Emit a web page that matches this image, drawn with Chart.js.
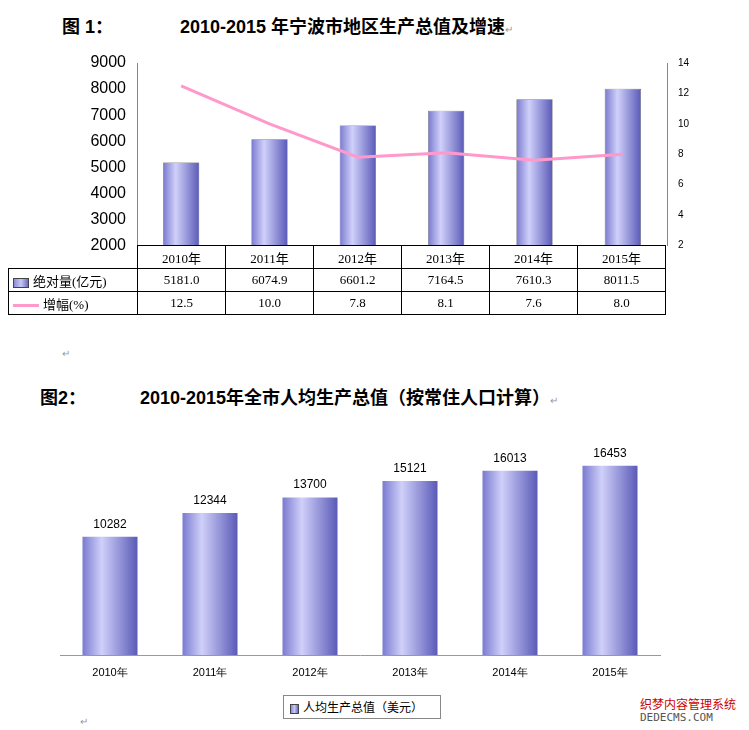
<!DOCTYPE html>
<html><head><meta charset="utf-8">
<script src="https://cdn.jsdelivr.net/npm/chart.js@4/dist/chart.umd.min.js"></script>
<style>
body{margin:0;width:749px;height:730px;background:#fff;position:relative;font-family:"Liberation Sans",Arial,"Noto Sans CJK SC",sans-serif;overflow:hidden}
.t{position:absolute;font-weight:bold;font-size:18px;color:#000;white-space:nowrap}
.m{position:absolute;color:#999;font-size:10px}
#c1{position:absolute;left:0;top:40px}
#c2{position:absolute;left:0;top:400px}
table{position:absolute;left:8px;top:245px;border-collapse:collapse;font-family:"Liberation Serif","Noto Sans CJK SC",serif;font-size:13px}
td{border:1px solid #000;height:22px;text-align:center;padding:0;width:87px}
td.l{width:128px;text-align:left;white-space:nowrap}
.sw{display:inline-block;width:14px;height:8px;border:1px solid #444;background:linear-gradient(90deg,#8c8cd8,#c8c8f4,#6b6bc4);vertical-align:middle;margin:0 4px 0 4px}
.ln{display:inline-block;width:26px;height:3px;background:#ff99cc;vertical-align:middle;margin:0 4px 0 4px}
#lg{position:absolute;left:283px;top:695px;width:156px;height:22px;border:1px solid #888;font-size:12px;font-family:"Noto Sans CJK SC",sans-serif;line-height:22px;white-space:nowrap}
</style></head><body>
<div class="t" style="left:62px;top:12px">图 1：</div>
<div class="t" style="left:180px;top:12px">2010-2015 年宁波市地区生产总值及增速<span style="font-size:10px;color:#999;font-weight:normal">↵</span></div>
<canvas id="c1" width="749" height="218"></canvas>
<table>
<tr><td class="l" style="border-top:none;border-left:none;border-bottom:1px solid #000"></td><td>2010年</td><td>2011年</td><td>2012年</td><td>2013年</td><td>2014年</td><td>2015年</td></tr>
<tr id="r1"></tr>
<tr id="r2"></tr>
</table>
<div class="m" style="left:62px;top:348px">↵</div>
<div class="t" style="left:40px;top:383px">图2：</div>
<div class="t" style="left:140px;top:383px">2010-2015年全市人均生产总值（按常住人口计算）<span style="font-size:10px;color:#999;font-weight:normal">↵</span></div>
<canvas id="c2" width="749" height="285"></canvas>
<div id="lg"><span class="sw" style="width:7px;margin-left:6px"></span>人均生产总值（美元）</div>
<div class="m" style="left:80px;top:716px">↵</div>
<div style="position:absolute;left:640px;top:695px;font-size:12px;color:#c00;font-family:'Noto Sans CJK SC'">织梦内容管理系统</div>
<div style="position:absolute;left:640px;top:711px;font-size:11px;color:#555;font-family:'DejaVu Sans Mono'">DEDECMS.COM</div>
<script>
const years=["2010年","2011年","2012年","2013年","2014年","2015年"];
const gdp=[5181.0,6074.9,6601.2,7164.5,7610.3,8011.5];
const growth=[12.5,10.0,7.8,8.1,7.6,8.0];
const perCapita=[10282,12344,13700,15121,16013,16453];

document.getElementById('r1').innerHTML='<td class="l"><span class="sw"></span>绝对量(亿元)</td>'+gdp.map(v=>'<td>'+v.toFixed(1)+'</td>').join('');
document.getElementById('r2').innerHTML='<td class="l"><span class="ln"></span>增幅(%)</td>'+growth.map(v=>'<td>'+v.toFixed(1)+'</td>').join('');

function grad(c,frac){
  const ch=c.chart,a=ch.chartArea;if(!a)return '#8c8cd8';
  const x=ch.scales.x,i=c.dataIndex;
  const cx=x.getPixelForValue(i),w=(x.width/ch.data.labels.length)*frac;
  const g=ch.ctx.createLinearGradient(cx-w/2,0,cx+w/2,0);
  g.addColorStop(0,'#7a7ad0');g.addColorStop(0.35,'#d0d0fa');g.addColorStop(1,'#5a5ab8');
  return g;
}
new Chart(document.getElementById('c1'),{
  data:{labels:years,datasets:[
    {type:'line',data:growth,yAxisID:'y1',borderColor:'#ff99cc',borderWidth:3,pointRadius:0,tension:0},
    {type:'bar',data:gdp,yAxisID:'y',backgroundColor:c=>grad(c,0.41),borderColor:'#333',borderWidth:0.5,barPercentage:0.41,categoryPercentage:1}
  ]},
  options:{responsive:false,animation:false,layout:{padding:{top:23,bottom:5,left:0,right:0}},
    plugins:{legend:{display:false},tooltip:{enabled:false}},
    scales:{
      x:{display:false},
      y:{position:'left',min:2000,max:9000,afterFit:s=>{s.width=137},ticks:{stepSize:1000,callback:v=>String(v),color:'#000',font:{size:16,family:'Liberation Sans'}},grid:{display:false},border:{color:'#888'}},
      y1:{position:'right',min:2,max:14,afterFit:s=>{s.width=82},ticks:{stepSize:2,color:'#000',font:{size:10}},grid:{display:false},border:{color:'#888'}}
    }}
});
const lbl={id:'lbl',afterDatasetsDraw(ch){const m=ch.getDatasetMeta(0),ctx=ch.ctx;ctx.save();ctx.font='12px "Liberation Sans"';ctx.fillStyle='#000';ctx.textAlign='center';
  m.data.forEach((b,i)=>ctx.fillText(perCapita[i],b.x,b.y-9));ctx.restore();}};
new Chart(document.getElementById('c2'),{
  type:'bar',
  data:{labels:years,datasets:[{data:perCapita,backgroundColor:c=>grad(c,0.55),borderWidth:0,barPercentage:0.55,categoryPercentage:1}]},
  options:{responsive:false,animation:false,layout:{padding:{top:25,left:60,right:89,bottom:0}},
    plugins:{legend:{display:false},tooltip:{enabled:false}},
    scales:{
      x:{afterFit:s=>{s.height=30},grid:{display:false},border:{color:'#999'},ticks:{color:'#000',font:{size:11}}},
      y:{display:false,min:0,max:20000}
    }},
  plugins:[lbl]
});
</script>
</body></html>
